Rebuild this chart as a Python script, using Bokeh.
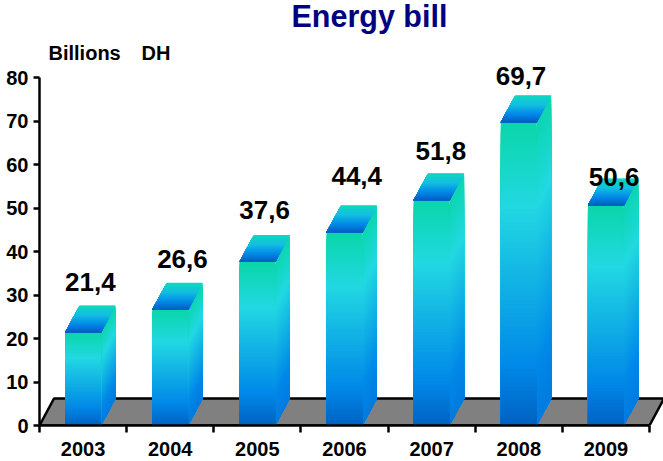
from bokeh.plotting import figure
from bokeh.embed import file_html
from bokeh.resources import INLINE
from bokeh.models import FixedTicker, Label, ColumnDataSource
from bokeh.core.properties import value

years = ["2003", "2004", "2005", "2006", "2007", "2008", "2009"]
bills = [21.4, 26.6, 37.6, 44.4, 51.8, 69.7, 50.6]
bill_labels = ["21,4", "26,6", "37,6", "44,4", "51,8", "69,7", "50,6"]
y_ticks = [0, 10, 20, 30, 40, 50, 60, 70, 80]
# hand placement of the value labels in the original, pixels
label_dx = [0, 5, 0, 5, 2, -5, 1]
label_dy = [-23, -24, -25, -29, -22, -19, -1]

PX_X = 87.14
PX_Y = 4.35
FRAME_W = 624
FRAME_H = 425
BAR_W = 36 / PX_X
DX = 14.5 / PX_X
DY = 27 / PX_Y
FONT = "Liberation Sans"

FRONT = [(0.0, (10, 214, 170)), (0.27, (34, 216, 226)), (0.8, (0, 136, 232)), (1.0, (0, 96, 192))]
SIDE = [(0.0, (12, 214, 176)), (0.27, (34, 216, 226)), (0.8, (0, 136, 232)), (1.0, (0, 122, 222))]
TOP = [(0.0, (14, 216, 190)), (0.35, (20, 190, 225)), (0.7, (0, 136, 232)), (1.0, (0, 92, 192))]


def ramp(stops, t):
    for (a, ca), (b, cb) in zip(stops, stops[1:]):
        if t <= b:
            f = (t - a) / (b - a)
            return "#%02x%02x%02x" % tuple(round(u + (w - u) * f) for u, w in zip(ca, cb))
    return "#%02x%02x%02x" % stops[-1][1]


p = figure(frame_width=FRAME_W, frame_height=FRAME_H, width=663, height=461,
           x_range=(0, FRAME_W / PX_X), y_range=(0, FRAME_H / PX_Y),
           output_backend="svg", toolbar_location=None,
           min_border_left=39, min_border_right=0, min_border_top=0, min_border_bottom=36)
p.outline_line_color = None
p.grid.visible = False
p.background_fill_color = "white"
p.border_fill_color = "white"

n = len(years)
p.patch([0, n, n + DX, DX], [0, 0, DY, DY], fill_color="#808080",
        line_color="black", line_width=2.5)

xs, ys, cols = [], [], []
STRIPS = 70
for i, v in enumerate(bills):
    l = i + 0.5 - BAR_W / 2
    r = l + BAR_W
    for k in range(STRIPS):      # right side face
        t = k / STRIPS
        h = v * (1 - t)
        xs.append([r, r + DX, r + DX, r])
        ys.append([h, h + DY, DY, 0])
        cols.append(ramp(SIDE, t))
    for k in range(STRIPS):      # front face
        t = k / STRIPS
        h = v * (1 - t)
        xs.append([l, r, r, l])
        ys.append([h, h, 0, 0])
        cols.append(ramp(FRONT, t))
    for k in range(STRIPS):      # top face, back to front
        t = k / STRIPS
        s = 1 - t
        xs.append([l + DX * s, r + DX * s, r, l])
        ys.append([v + DY * s, v + DY * s, v, v])
        cols.append(ramp(TOP, t))
p.patches(xs, ys, fill_color=cols, line_color=None)

src = ColumnDataSource(dict(
    x=[i + 0.5 + DX / 2 for i in range(n)],
    y=[v + DY for v in bills],
    t=bill_labels, dx=label_dx, dy=label_dy))
p.text("x", "y", text="t", source=src, x_offset="dx", y_offset="dy",
       text_font=value(FONT), text_font_size="26px", text_font_style="bold",
       text_color="black", text_align="center", text_baseline="middle")

p.add_layout(Label(x=252 / PX_X, y=(425 - 15) / PX_Y, text="Energy bill",
                   text_font=FONT, text_font_size="30.5px", text_font_style="bold",
                   text_color="#000080", text_align="left", text_baseline="middle"))

p.text([9 / PX_X], [(425 - 52) / PX_Y], text=["Billions"], text_font=value(FONT),
       text_font_size="20px", text_font_style="bold", text_color="black",
       text_align="left", text_baseline="middle")
p.text([102 / PX_X], [(425 - 52) / PX_Y], text=["DH"], text_font=value(FONT),
       text_font_size="20px", text_font_style="bold", text_color="black",
       text_align="left", text_baseline="middle")

ya = p.yaxis[0]
ya.ticker = FixedTicker(ticks=y_ticks)
ya.bounds = (0, 80)
ya.axis_line_color = "black"
ya.axis_line_width = 2.5
ya.major_tick_line_color = "black"
ya.major_tick_line_width = 2.5
ya.major_tick_in = 0
ya.major_tick_out = 6
ya.minor_tick_line_color = None
ya.major_label_standoff = 5
ya.major_label_text_font = FONT
ya.major_label_text_font_size = "20px"
ya.major_label_text_font_style = "bold"
ya.major_label_text_color = "black"

centres = [i + 0.5 for i in range(n)]
xa = p.xaxis[0]
xa.ticker = FixedTicker(ticks=centres, minor_ticks=list(range(n + 1)))
xa.major_label_overrides = dict(zip(centres, years))
xa.bounds = (0, n)
xa.axis_line_color = "black"
xa.axis_line_width = 2.5
xa.major_tick_line_color = None
xa.major_tick_in = 0
xa.major_tick_out = 7
xa.minor_tick_line_color = "black"
xa.minor_tick_line_width = 2.5
xa.minor_tick_in = 0
xa.minor_tick_out = 7
xa.major_label_standoff = 9
xa.major_label_text_font = FONT
xa.major_label_text_font_size = "20px"
xa.major_label_text_font_style = "bold"
xa.major_label_text_color = "black"

open("out.html", "w").write(file_html(p, INLINE))
